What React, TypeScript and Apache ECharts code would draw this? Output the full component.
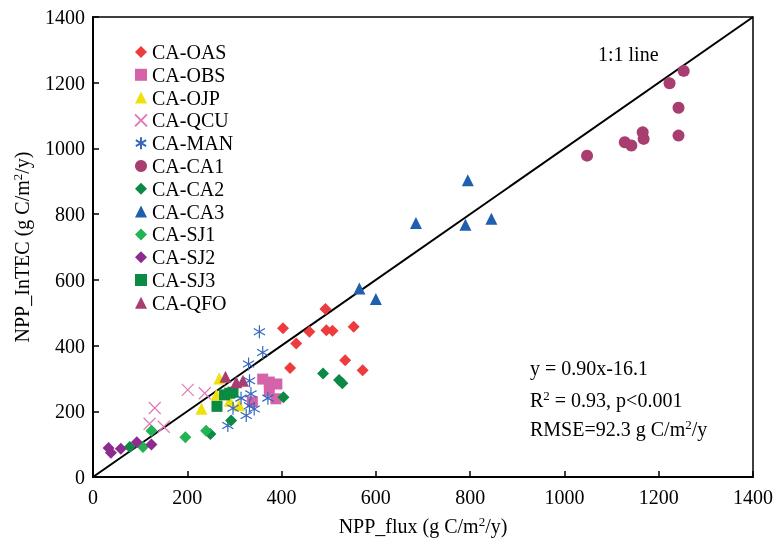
import React, { useEffect, useRef } from "react";
import * as echarts from "echarts";

const siteNames = ["CA-OAS", "CA-OBS", "CA-OJP", "CA-QCU", "CA-MAN", "CA-CA1", "CA-CA2", "CA-CA3", "CA-SJ1", "CA-SJ2", "CA-SJ3", "CA-QFO"];

const OAS = [[493, 511], [403, 453], [459, 442], [495, 447], [508, 445], [553, 457], [431, 406], [418, 332], [535, 355], [572, 325]];
const OBS = [[360, 298], [374, 289], [390, 283], [374, 262], [388, 238], [338, 229]];
const OJP = [[268, 300], [230, 208], [262, 250], [290, 232], [310, 218]];
const QCU = [[131, 210], [120, 162], [150, 153], [201, 265], [237, 255]];
const MAN = [[353, 442], [360, 379], [330, 344], [332, 293], [314, 240], [335, 253], [297, 209], [325, 187], [342, 207], [371, 240], [286, 157], [332, 217]];
const CA1 = [[1048, 978], [1128, 1019], [1142, 1009], [1166, 1049], [1168, 1029], [1242, 1039], [1242, 1124], [1223, 1198], [1253, 1236]];
const CA2 = [[404, 243], [488, 315], [522, 295], [529, 285], [293, 172], [78, 91], [249, 131]];
const CA3 = [[795, 903], [685, 773], [790, 768], [845, 786], [565, 574], [600, 542]];
const SJ1 = [[124, 141], [106, 91], [196, 121], [240, 141]];
const SJ2 = [[33, 88], [38, 74], [59, 86], [93, 106], [124, 99]];
const SJ3 = [[279, 250], [297, 258], [263, 215], [290, 255]];
const QFO = [[281, 305], [304, 288], [318, 293]];
const oneToOne = [[0, 0], [1400, 1400]];

const FONT = "Liberation Serif";
const xMark = "path://M0,0L10,10M10,0L0,10";
const star = "path://M5,0L5,10M0.7,2.5L9.3,7.5M0.7,7.5L9.3,2.5";

export default function App() {
  const ref = useRef<HTMLDivElement>(null);
  useEffect(() => {
    const chart = echarts.init(ref.current!, null, { renderer: "svg" });
    const sc = (name: string, data: number[][], symbol: string, color: string, size: number, hollow = false) => ({
      name,
      type: "scatter",
      data,
      symbol,
      symbolSize: size,
      symbolKeepAspect: true,
      itemStyle: hollow
        ? { color: "rgba(0,0,0,0)", borderColor: color, borderWidth: 1.2, opacity: 1 }
        : { color, opacity: 1 },
      z: 3,
    });
    const sup = { fontSize: 13, verticalAlign: "top", fontFamily: FONT, color: "#000", lineHeight: 13 };
    const base = { fontSize: 20, fontFamily: FONT, color: "#000", lineHeight: 22 };
    const fmt = (v: number) => String(v);
    chart.setOption({
      animation: false,
      textStyle: { fontFamily: FONT },
      grid: { left: 93, right: 21, top: 17, bottom: 64, show: true, borderColor: "#000", borderWidth: 1.5 },
      legend: {
        data: siteNames,
        orient: "vertical",
        left: 134,
        top: 42,
        padding: 0,
        itemWidth: 12,
        itemHeight: 12,
        itemGap: 2.8,
        textStyle: { fontSize: 20, fontFamily: FONT, color: "#000", lineHeight: 20 },
      },
      xAxis: {
        type: "value",
        min: 0,
        max: 1400,
        interval: 200,
        name: "NPP_flux (g C/m{s|2}/y)",
        nameLocation: "middle",
        nameGap: 38,
        nameTextStyle: { ...base, rich: { s: sup } },
        axisLine: { lineStyle: { color: "#000", width: 2 } },
        axisTick: { inside: true, length: 6, lineStyle: { color: "#000", width: 1.5 } },
        axisLabel: { fontSize: 20, fontFamily: FONT, color: "#000", margin: 10, formatter: fmt },
        splitLine: { show: false },
      },
      yAxis: {
        type: "value",
        min: 0,
        max: 1400,
        interval: 200,
        name: "NPP_InTEC (g C/m{s|2}/y)",
        nameLocation: "middle",
        nameGap: 60,
        nameTextStyle: { ...base, rich: { s: sup } },
        axisLine: { lineStyle: { color: "#000", width: 2 } },
        axisTick: { inside: true, length: 6, lineStyle: { color: "#000", width: 1.5 } },
        axisLabel: { fontSize: 20, fontFamily: FONT, color: "#000", margin: 8, formatter: fmt },
        splitLine: { show: false },
      },
      graphic: [
        { type: "text", left: 598, top: 44, style: { text: "1:1 line", font: `20px '${FONT}'`, fill: "#000" } },
        { type: "text", left: 530, top: 358, style: { text: "y = 0.90x-16.1", font: `20px '${FONT}'`, fill: "#000" } },
        { type: "text", left: 530, top: 389, style: { text: "R{s|2} = 0.93, p<0.001", rich: { s: sup }, ...base, fill: "#000" } },
        { type: "text", left: 530, top: 418, style: { text: "RMSE=92.3 g C/m{s|2}/y", rich: { s: sup }, ...base, fill: "#000" } },
      ],
      series: [
        { type: "line", data: oneToOne, symbol: "none", lineStyle: { color: "#000", width: 2 }, z: 2, silent: true },
        sc("CA-OAS", OAS, "diamond", "#ee3b3e", 12),
        sc("CA-OBS", OBS, "rect", "#d563a9", 11),
        sc("CA-OJP", OJP, "triangle", "#f0e10c", 12),
        sc("CA-QCU", QCU, xMark, "#e07ab6", 12, true),
        sc("CA-MAN", MAN, star, "#3568c0", 13, true),
        sc("CA-CA1", CA1, "circle", "#a83d70", 12),
        sc("CA-CA2", CA2, "diamond", "#0c8a45", 12),
        sc("CA-CA3", CA3, "triangle", "#1f5fae", 12),
        sc("CA-SJ1", SJ1, "diamond", "#22b354", 12),
        sc("CA-SJ2", SJ2, "diamond", "#8e2b8e", 12),
        sc("CA-SJ3", SJ3, "rect", "#0b8a43", 11),
        sc("CA-QFO", QFO, "triangle", "#a83d70", 12),
      ],
    });
    return () => chart.dispose();
  }, []);
  return <div ref={ref} style={{ position: "fixed", left: 0, top: 0, width: 776, height: 542 }} />;
}
